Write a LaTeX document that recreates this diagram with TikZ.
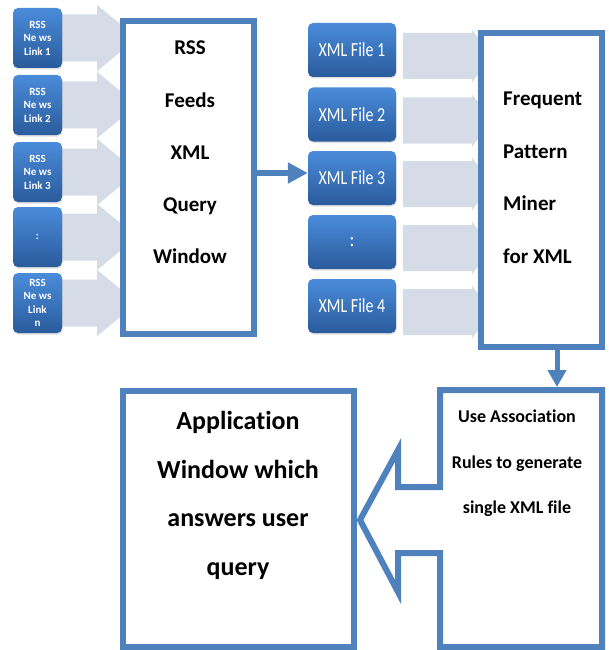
\documentclass[tikz,border=0pt]{standalone}
\usepackage{fontspec}
\usepackage{graphicx}
\setmainfont{Carlito}[Ligatures=NoCommon]
\usetikzlibrary{arrows.meta,shadows,calc}

\pgfdeclarelayer{background}
\pgfsetlayers{background,main}

\definecolor{frame}{HTML}{4F81BD}
\definecolor{pale}{HTML}{D5DCE7}
\definecolor{tiletop}{HTML}{4A8CDA}
\definecolor{tilebot}{HTML}{2A5B9C}

\tikzset{
  panel/.style={draw=frame, line width=6pt, fill=white, rectangle, inner sep=0pt},
  tile/.style={rectangle, rounded corners=5pt, top color=tiletop, bottom color=tilebot,
    draw=none, text=white, align=center, inner sep=0pt,
    drop shadow={opacity=0.25, shadow xshift=0.5pt, shadow yshift=-1.5pt}},
  rsstile/.style={tile, minimum width=49pt, minimum height=60pt,
    font=\fontsize{11}{13.5}\selectfont\bfseries},
  xmltile/.style={tile, minimum width=88pt, minimum height=54pt,
    font=\fontsize{20}{20}\selectfont},
  flow/.style={draw=frame, line width=6pt, -{Triangle[length=20pt,width=20pt]}},
  downflow/.style={draw=frame, line width=5pt, -{Triangle[length=17pt,width=18pt]}},
  feedtxt/.style={font=\fontsize{21}{21}\selectfont\bfseries, anchor=base, inner sep=0pt},
  minetxt/.style={font=\fontsize{21}{21}\selectfont\bfseries, anchor=base west, inner sep=0pt},
  apptxt/.style={font=\fontsize{26}{26}\selectfont\bfseries, anchor=base, inner sep=0pt},
  assoctxt/.style={font=\fontsize{18}{18}\selectfont\bfseries, anchor=base, inner sep=0pt},
}

\newcommand\narrow[1]{\scalebox{0.8}[1]{#1}}

\begin{document}
\begin{tikzpicture}[x=1pt, y=-1pt]
\useasboundingbox (0,0) rectangle (608,650);

% RSS link tiles
\node[rsstile] (r1) at (37.5,38)  {RSS\\Ne ws\\Link 1};
\node[rsstile] (r2) at (37.5,105) {RSS\\Ne ws\\Link 2};
\node[rsstile] (r3) at (37.5,172) {RSS\\Ne ws\\Link 3};
\node[rsstile] (r4) at (37.5,237) {:};
\node[rsstile] (r5) at (37.5,303) {RSS\\Ne ws\\Link\\n};

% XML file tiles
\node[xmltile] (x1) at (352,50)  {\narrow{XML File 1}};
\node[xmltile] (x2) at (352,114.5) {\narrow{XML File 2}};
\node[xmltile] (x3) at (352,178) {\narrow{XML File 3}};
\node[xmltile] (x4) at (352,242) {:};
\node[xmltile] (x5) at (352,306) {\narrow{XML File 4}};

% pale block arrows behind the tiles
\begin{pgfonlayer}{background}
  \foreach \n in {r1,r2,r3,r4,r5}
    \fill[pale] ($(\n.east)+(-7,-23.5)$) -- ++(42,0) -- ++(0,-9.5) -- ++(40,33)
      -- ++(-40,33) -- ++(0,-9.5) -- ++(-42,0) -- cycle;
  \foreach \n in {x1,x2,x3,x4,x5}
    \fill[pale] ($(\n.east)+(7,-17)$) -- ++(69,0) -- ++(0,-3) -- ++(20,26)
      -- ++(-20,26) -- ++(0,-3) -- ++(-69,0) -- cycle;
\end{pgfonlayer}

% query window
\node[panel, minimum width=131pt, minimum height=313pt] (rss) at (188.5,177.5) {};
\node[feedtxt] (t1) at (190,55)  {RSS};
\node[feedtxt] (t2) at (190,107) {Feeds};
\node[feedtxt] (t3) at (190,159) {XML};
\node[feedtxt] (t4) at (190,211) {Query};
\node[feedtxt] (t5) at (190,263) {Window};

% pattern miner
\node[panel, minimum width=121pt, minimum height=314pt] (miner) at (541.5,190) {};
\node[minetxt] (m1) at (503,106) {Frequent};
\node[minetxt] (m2) at (503,158) {Pattern};
\node[minetxt] (m3) at (503,210) {Miner};
\node[minetxt] (m4) at (503,263) {for XML};

% application window
\node[panel, minimum width=231pt, minimum height=256pt] (app) at (238.5,519) {};
\node[apptxt] (a1) at (238,429) {Application};
\node[apptxt] (a2) at (238,478) {Window which};
\node[apptxt] (a3) at (238,526) {answers user};
\node[apptxt] (a4) at (238,575) {query};

% association rules box with its arrow pointing left
\draw[draw=frame, line width=6pt, fill=white, line join=miter]
  (440,390) -- (602,390) -- (602,647) -- (440,647) -- (440,553) -- (398,553)
  -- (398,592) -- (360,520) -- (398,450) -- (398,487) -- (440,487) -- cycle;
\coordinate (assoctop) at (557,387);
\node[assoctxt] (s1) at (517,422) {Use Association};
\node[assoctxt] (s2) at (517,468) {Rules to generate};
\node[assoctxt] (s3) at (517,513) {single XML file};

% connectors
\draw[flow] (rss.east |- 0,173) -- (x3.west |- 0,173);
\draw[downflow] (miner.south -| assoctop) -- (assoctop);
\end{tikzpicture}
\end{document}
